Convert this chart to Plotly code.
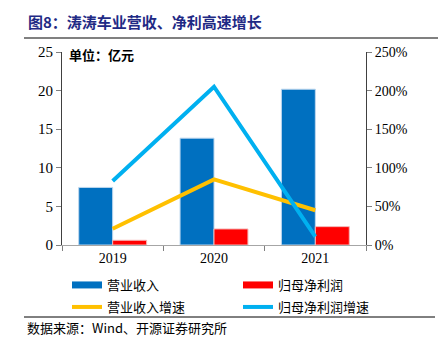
import plotly.graph_objects as go

years = ["2019", "2020", "2021"]
revenue = [7.46, 13.84, 20.18]
net_profit = [0.61, 2.08, 2.38]
revenue_growth = [21, 85, 45]
profit_growth = [83, 205, 11]

left_ticks = [0, 5, 10, 15, 20, 25]
right_ticks = [0, 50, 100, 150, 200, 250]
right_tick_text = [f"{v}%" for v in right_ticks]

C_BLUE = "#0070C0"
C_RED = "#FF0000"
C_YELLOW = "#FFC000"
C_LBLUE = "#00B0F0"

SERIF = "Liberation Serif, Noto Sans CJK SC, serif"
CJK = "Noto Sans CJK SC, Liberation Serif, serif"

W, H = 438, 350
L, R, T, B = 62, 72, 52, 105
PW, PH = W - L - R, H - T - B


def px_x(x):
    return (x - L) / PW


def px_y(y):
    return (H - B - y) / PH


fig = go.Figure()
fig.add_trace(go.Bar(x=years, y=revenue, name="营业收入", marker=dict(color=C_BLUE, line=dict(color="#BDD7EE", width=1)),
                     showlegend=False, yaxis="y"))
fig.add_trace(go.Bar(x=years, y=net_profit, name="归母净利润", marker=dict(color=C_RED, line=dict(color="#F4B6B6", width=1)),
                     showlegend=False, yaxis="y"))
fig.add_trace(go.Scatter(x=years, y=revenue_growth, name="营业收入增速", mode="lines",
                         line=dict(color=C_YELLOW, width=4), showlegend=False, yaxis="y2"))
fig.add_trace(go.Scatter(x=years, y=profit_growth, name="归母净利润增速", mode="lines",
                         line=dict(color=C_LBLUE, width=4), showlegend=False, yaxis="y2"))

legend_items = [("营业收入", C_BLUE, 7, "legend"), ("归母净利润", C_RED, 7, "legend2"),
                ("营业收入增速", C_YELLOW, 4, "legend3"), ("归母净利润增速", C_LBLUE, 4, "legend4")]
for name, color, w, lg in legend_items:
    fig.add_trace(go.Scatter(x=[None], y=[None], mode="lines", name=name,
                             line=dict(color=color, width=w), showlegend=True, legend=lg))


def leg(xpx, ypx):
    return dict(x=px_x(xpx), y=px_y(ypx), xanchor="left", yanchor="middle",
                font=dict(family=CJK, size=13), bgcolor="rgba(0,0,0,0)", borderwidth=0, itemwidth=30)


fig.update_layout(
    width=W, height=H,
    margin=dict(l=L, r=R, t=T, b=B),
    paper_bgcolor="white", plot_bgcolor="white",
    barmode="group", bargap=0.33, bargroupgap=0,
    font=dict(family=SERIF, size=14, color="#000000"),
    xaxis=dict(type="category", showline=True, linecolor="#A6A6A6", linewidth=1,
               ticks="outside", tickson="boundaries", ticklen=5, tickcolor="#808080",
               tickfont=dict(family=SERIF, size=14), showgrid=False, zeroline=False),
    yaxis=dict(range=[0, 25], tickvals=left_ticks, showline=True, linecolor="#404040", linewidth=1,
               ticks="outside", ticklen=5, tickcolor="#808080", showgrid=False, zeroline=False,
               tickfont=dict(family=SERIF, size=15)),
    yaxis2=dict(range=[0, 250], tickvals=right_ticks, ticktext=right_tick_text, overlaying="y", side="right",
                showline=True, linecolor="#404040", linewidth=1, ticks="outside", ticklen=5, tickcolor="#808080",
                showgrid=False, zeroline=False, tickfont=dict(family=SERIF, size=14)),
    legend=leg(67, 285), legend2=leg(238, 285), legend3=leg(67, 307), legend4=leg(238, 307),
    showlegend=True,
)

fig.add_annotation(text="<b>图8：涛涛车业营收、净利高速增长</b>", xref="paper", yref="paper",
                   x=px_x(26), y=px_y(22), xanchor="left", yanchor="middle",
                   showarrow=False, font=dict(family=CJK, size=15, color="#1F2A85"))
fig.add_annotation(text="<b>单位：亿元</b>", xref="paper", yref="paper",
                   x=px_x(67), y=px_y(54), xanchor="left", yanchor="middle",
                   showarrow=False, font=dict(family=CJK, size=13, color="#000000"))
fig.add_annotation(text="数据来源：Wind、开源证券研究所", xref="paper", yref="paper",
                   x=px_x(25), y=px_y(327), xanchor="left", yanchor="middle",
                   showarrow=False, font=dict(family=CJK, size=13, color="#000000"))

fig.add_shape(type="line", xref="paper", yref="paper", x0=px_x(24), x1=px_x(438),
              y0=px_y(38), y1=px_y(38), line=dict(color="#808080", width=2))
fig.add_shape(type="line", xref="paper", yref="paper", x0=px_x(24), x1=px_x(435),
              y0=px_y(317), y1=px_y(317), line=dict(color="#000000", width=1))

fig.write_html("out.html")
